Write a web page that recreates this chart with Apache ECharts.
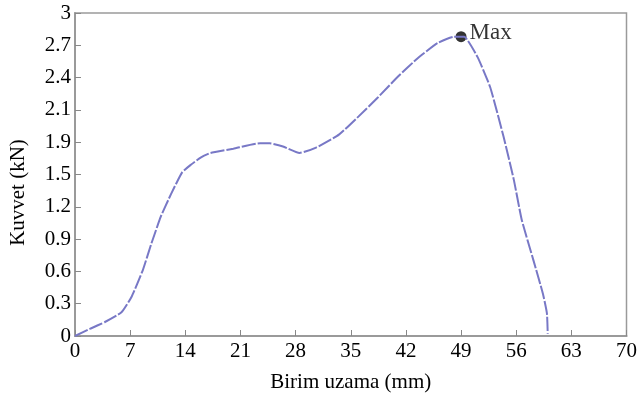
<!DOCTYPE html>
<html>
<head>
<meta charset="utf-8">
<script src="https://cdn.jsdelivr.net/npm/echarts@6/dist/echarts.min.js"></script>
<style>
  html, body { margin: 0; padding: 0; background: #fff; }
  #chart { width: 640px; height: 402px; }
</style>
</head>
<body>
<div id="chart"></div>
<script>
// uzama (mm) / kuvvet (kN), okunan degerler
const strain = [0, 2, 3.8, 5.9, 7.15, 8.6, 9.7, 10.9, 12.2, 13.6, 14.7, 16, 17.2, 20.1, 23.5, 24.7, 26.4, 28.5, 30.6, 33.5, 36, 38.5, 41, 43.5, 46, 48.1, 49, 49.4, 51.1, 52.7, 54.4, 55.7, 56.7, 58.2, 59.4, 59.9, 60];
const force = [0, 0.07, 0.13, 0.22, 0.36, 0.61, 0.86, 1.11, 1.32, 1.52, 1.59, 1.66, 1.70, 1.74, 1.79, 1.79, 1.76, 1.70, 1.75, 1.87, 2.04, 2.22, 2.41, 2.58, 2.72, 2.78, 2.78, 2.78, 2.59, 2.31, 1.85, 1.45, 1.08, 0.70, 0.39, 0.21, 0.02];
const maxPoint = [49, 2.78];
const yTickLabels = ['0', '0.3', '0.6', '0.9', '1.2', '1.5', '1.9', '2.1', '2.4', '2.7', '3'];

const font = '"Liberation Serif", "DejaVu Serif", serif';
const lineData = strain.map((x, i) => [x, force[i]]);

let myChart = echarts.init(document.getElementById('chart'));
const option = {
  animation: false,
  grid: {
    left: 73, right: 9, top: 13, bottom: 66,
    show: true, borderColor: '#9a9a9a', borderWidth: 1.5
  },
  xAxis: {
    type: 'value', min: 0, max: 70, interval: 7,
    name: 'Birim uzama (mm)', nameLocation: 'middle', nameGap: 36,
    nameTextStyle: { fontFamily: font, fontSize: 21, color: '#000' },
    axisLine: { lineStyle: { color: '#9a9a9a', width: 2 } },
    axisTick: { inside: true, length: 6, lineStyle: { color: '#888' } },
    axisLabel: { fontFamily: font, fontSize: 21, color: '#000', margin: 5 },
    splitLine: { show: false }
  },
  yAxis: {
    type: 'value', min: 0, max: 3, interval: 0.3,
    name: 'Kuvvet (kN)', nameLocation: 'middle', nameGap: 46,
    nameTextStyle: { fontFamily: font, fontSize: 21, color: '#000', padding: [0, 36, 0, 0] },
    axisLine: { lineStyle: { color: '#9a9a9a', width: 2 } },
    axisTick: { inside: true, length: 6, lineStyle: { color: '#888' } },
    axisLabel: {
      fontFamily: font, fontSize: 21, color: '#000', margin: 4,
      formatter: (v, i) => yTickLabels[i]
    },
    splitLine: { show: false }
  },
  series: [
    {
      type: 'line', data: lineData, showSymbol: false, smooth: 0.15,
      lineStyle: { color: '#7878c6', width: 2, type: [14, 2] }
    },
    {
      type: 'scatter', data: [maxPoint], symbolSize: 11,
      itemStyle: { color: '#000' },
      label: {
        show: true, position: 'right', distance: 2, offset: [1, -4],
        formatter: 'Max', fontFamily: font, fontSize: 23, color: '#000'
      }
    }
  ]
};
myChart.setOption(option);
</script>
</body>
</html>
